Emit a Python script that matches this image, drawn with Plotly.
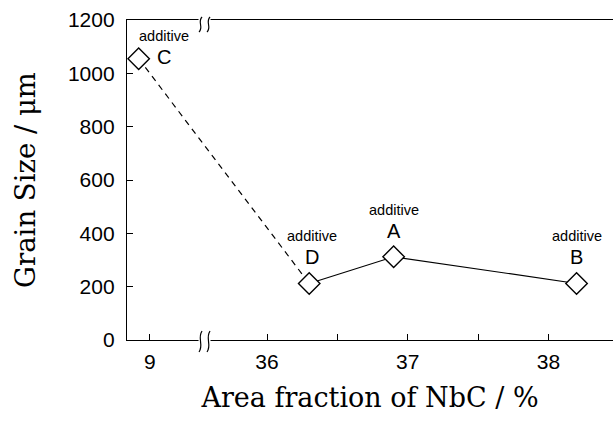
import plotly.graph_objects as go

# ---- data ----
sample = ["C", "D", "A", "B"]
nbc_fraction = [8.92, 36.30, 36.90, 38.20]      # Area fraction of NbC / %
grain_size = [1055, 212, 312, 212]              # Grain size / um
dashed_samples = ["C", "D"]
solid_samples = ["D", "A", "B"]

x_tick_values = [9, 36, 36.5, 37, 37.5, 38]
x_tick_labels = ["9", "36", "", "37", "", "38"]
y_tick_values = [0, 200, 400, 600, 800, 1000, 1200]

# ---- broken x axis: values below BREAK_AT are shifted next to the main segment ----
BREAK_AT = 20
BREAK_SHIFT = 26.168
BREAK_POS = 35.556


def to_axis(v):
    return v + BREAK_SHIFT if v < BREAK_AT else v


xa = {s: to_axis(v) for s, v in zip(sample, nbc_fraction)}
ya = dict(zip(sample, grain_size))

fig = go.Figure()
fig.add_trace(go.Scatter(
    x=[xa[s] for s in dashed_samples], y=[ya[s] for s in dashed_samples],
    mode="lines", line=dict(color="black", width=1.2, dash="6px,5px"),
    showlegend=False, hoverinfo="skip"))
fig.add_trace(go.Scatter(
    x=[xa[s] for s in solid_samples], y=[ya[s] for s in solid_samples],
    mode="lines", line=dict(color="black", width=1.2),
    showlegend=False, hoverinfo="skip"))
fig.add_trace(go.Scatter(
    x=[xa[s] for s in sample], y=grain_size, mode="markers",
    marker=dict(symbol="diamond", size=16.5, color="white",
                line=dict(color="black", width=1.4)),
    showlegend=False))

# labels above / beside points
label_offsets = {"C": (25, 2), "D": (3, 26), "A": (0, 26), "B": (0, 26)}
for s in sample:
    dx, dy = label_offsets[s]
    fig.add_annotation(x=xa[s], y=ya[s], text=s, showarrow=False,
                       xshift=dx, yshift=dy,
                       font=dict(family="Liberation Sans", size=20, color="black"))
    fig.add_annotation(x=xa[s], y=ya[s], text="additive", showarrow=False,
                       xshift=dx, yshift=dy + 21,
                       font=dict(family="Liberation Sans", size=14.5, color="black"))

# axis break marks (white gap + two wavy strokes) on bottom and top axis lines
px = 1 / 140.7
py = 1 / 320.0
gap_l, gap_r = BREAK_POS - 6 * px, BREAK_POS + 6 * px
for yc in (0.0, 1.0):
    fig.add_shape(type="rect", xref="x", yref="paper",
                  x0=gap_l, x1=gap_r, y0=yc - 2 * py, y1=yc + 2 * py,
                  fillcolor="white", line=dict(width=0), layer="above")
strokes = []
for yc, top, bot in ((0.0, 9, -12), (1.0, 3, -12)):
    for xc in (BREAK_POS - 4 * px, BREAK_POS + 4 * px):
        y0 = yc + top * py
        y1 = yc + bot * py
        h = y1 - y0
        strokes.append(
            f"M {xc + 1.5*px},{y0} C {xc - 3.5*px},{y0 + 0.35*h} "
            f"{xc + 3.5*px},{y0 + 0.65*h} {xc - 1.5*px},{y1}")
for p in strokes:
    fig.add_shape(type="path", xref="x", yref="paper", path=p,
                  line=dict(color="black", width=1.2), layer="above")

fig.update_layout(
    width=613, height=429,
    margin=dict(l=127, r=0, t=20, b=89),
    paper_bgcolor="white", plot_bgcolor="white",
    xaxis=dict(
        range=[35.005, 38.459], showgrid=False, zeroline=False,
        showline=True, linecolor="black", linewidth=1.3, mirror=True,
        ticks="inside", ticklen=6, tickwidth=1, tickcolor="black",
        tickvals=[to_axis(v) for v in x_tick_values], ticktext=x_tick_labels,
        tickfont=dict(family="Liberation Sans", size=21, color="black"),
        ticklabelstandoff=3,
        title=dict(text="Area fraction of NbC / %", standoff=15,
                   font=dict(family="DejaVu Serif", size=27, color="black")),
    ),
    yaxis=dict(
        range=[0, 1200], showgrid=False, zeroline=False,
        showline=True, linecolor="black", linewidth=1.3,
        ticks="inside", ticklen=6, tickwidth=1, tickcolor="black",
        tickvals=y_tick_values,
        tickfont=dict(family="Liberation Sans", size=21, color="black"),
        ticklabelstandoff=7,
        title=dict(text="Grain Size / μm", standoff=24,
                   font=dict(family="DejaVu Serif", size=27.5, color="black")),
    ),
)

fig.write_html("out.html", config={"displayModeBar": False},
               post_script="document.body.style.margin='0px';")
